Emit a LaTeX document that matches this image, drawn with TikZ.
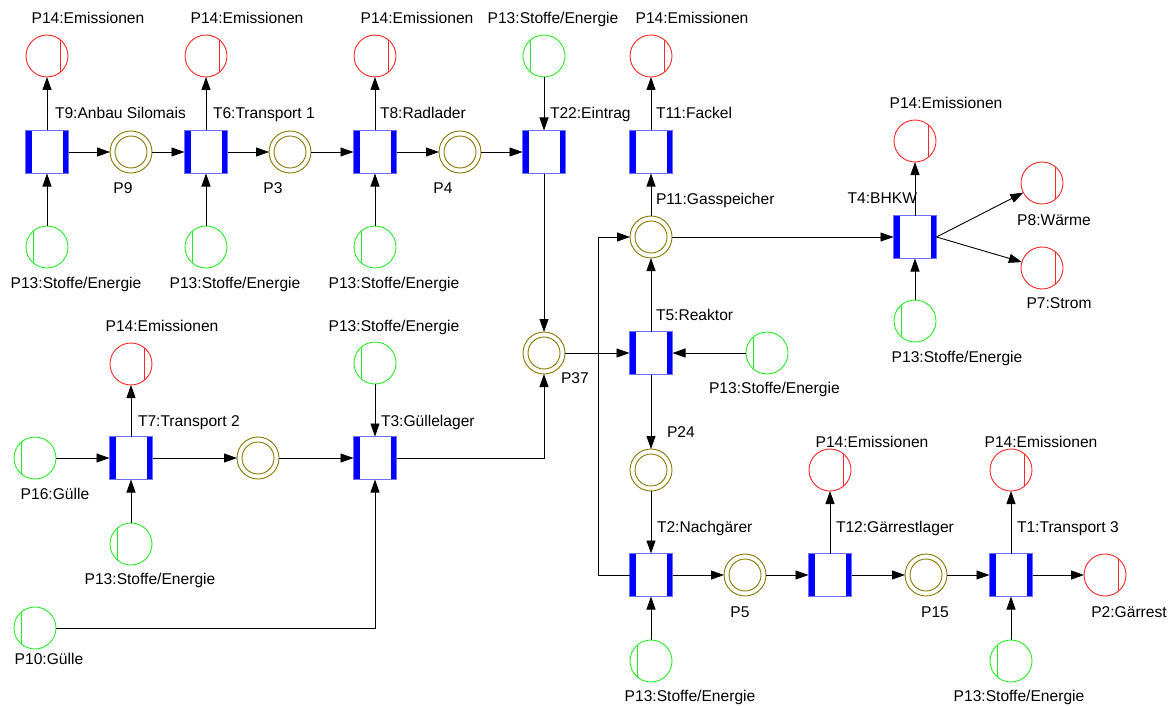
\documentclass[tikz,border=0pt]{standalone}
\usepackage{fontspec}
\setmainfont{Liberation Sans}
\usetikzlibrary{arrows.meta}
\definecolor{trblue}{RGB}{0,0,255}
\definecolor{tredge}{RGB}{110,110,255}
\definecolor{plred}{RGB}{255,40,40}
\definecolor{plgreen}{RGB}{40,235,40}
\definecolor{plolive}{RGB}{135,120,0}
\begin{document}
\begin{tikzpicture}[x=1pt,y=-1pt,
  every node/.style={inner sep=0pt,outer sep=0pt},
  trans/.style={rectangle,minimum width=43pt,minimum height=43pt,draw=tredge,line width=0.9pt,fill=white,
    path picture={
      \fill[trblue] (path picture bounding box.south west) rectangle ([xshift=6pt]path picture bounding box.north west);
      \fill[trblue] (path picture bounding box.south east) rectangle ([xshift=-6pt]path picture bounding box.north east);}},
  emis/.style={circle,minimum size=42pt,draw=plred,line width=0.9pt,fill=white,
    path picture={\draw[plred,line width=0.9pt]
      ([xshift=13pt,yshift=-25pt]path picture bounding box.center) -- ([xshift=13pt,yshift=25pt]path picture bounding box.center);}},
  res/.style={circle,minimum size=42pt,draw=plgreen,line width=0.9pt,fill=white,
    path picture={\draw[plgreen,line width=0.9pt]
      ([xshift=-14pt,yshift=-25pt]path picture bounding box.center) -- ([xshift=-14pt,yshift=25pt]path picture bounding box.center);}},
  buf/.style={circle,minimum size=42pt,draw=plolive,line width=0.9pt,fill=white,
    path picture={\draw[plolive,line width=0.9pt] (path picture bounding box.center) circle[radius=16pt];}},
  lbl/.style={font=\fontsize{15.6}{18}\selectfont,text height=11.2pt,text depth=0pt},
  arc/.style={-{Triangle[length=13pt,width=9pt]},line width=0.9pt,black},
]
\path[use as bounding box] (0,0) rectangle (1175,706);

% --- upper chain: cultivation, transport, loading, feeding
\node[trans] (T9) at (47,152) {};
\node[emis] (E9) at (47,56) {};
\node[res] (R9) at (47,247) {};
\node[buf] (P9) at (131,152) {};
\node[trans] (T6) at (206,152) {};
\node[emis] (E6) at (206,56) {};
\node[res] (R6) at (206,247) {};
\node[buf] (P3) at (290,152) {};
\node[trans] (T8) at (375,152) {};
\node[emis] (E8) at (375,56) {};
\node[res] (R8) at (375,247) {};
\node[buf] (P4) at (460,152) {};
\node[trans] (T22) at (544,152) {};
\node[res] (R22) at (544,56) {};
\node[trans] (T11) at (651,152) {};
\node[emis] (E11) at (651,56) {};

% --- gas storage and CHP
\node[buf] (P11) at (651,237) {};
\node[trans] (T4) at (915,237) {};
\node[emis] (E4) at (915,141) {};
\node[res] (R4) at (915,321) {};
\node[emis] (P8) at (1042,183) {};
\node[emis] (P7) at (1042,268) {};

% --- reactor
\node[buf] (P37) at (544,353) {};
\node[trans] (T5) at (651,353) {};
\node[res] (R5) at (767,353) {};
\node[buf] (P24) at (651,470) {};

% --- digestate chain
\node[trans] (T2) at (651,575) {};
\node[res] (R2) at (651,661) {};
\node[buf] (P5) at (745,575) {};
\node[trans] (T12) at (830,575) {};
\node[emis] (E12) at (830,470) {};
\node[buf] (P15) at (926,575) {};
\node[trans] (T1) at (1011,575) {};
\node[emis] (E1) at (1011,470) {};
\node[res] (R1) at (1011,661) {};
\node[emis] (P2) at (1105,575) {};

% --- manure chain
\node[res] (P16) at (35,458) {};
\node[trans] (T7) at (131,458) {};
\node[emis] (E7) at (131,364) {};
\node[res] (R7) at (131,544) {};
\node[buf] (PU) at (258,458) {};
\node[trans] (T3) at (375,458) {};
\node[res] (R3) at (375,363) {};
\node[res] (P10) at (35,628) {};

\coordinate (k1) at (375,628);
\coordinate (k2) at (544,458);
\coordinate (k3) at (598,575);
\coordinate (k4) at (598,237);

% --- arcs
\draw[arc] (T9) -- (E9);
\draw[arc] (R9) -- (T9);
\draw[arc] (T9) -- (P9);
\draw[arc] (P9) -- (T6);
\draw[arc] (T6) -- (E6);
\draw[arc] (R6) -- (T6);
\draw[arc] (T6) -- (P3);
\draw[arc] (P3) -- (T8);
\draw[arc] (T8) -- (E8);
\draw[arc] (R8) -- (T8);
\draw[arc] (T8) -- (P4);
\draw[arc] (P4) -- (T22);
\draw[arc] (R22) -- (T22);
\draw[arc] (T22) -- (P37);
\draw[arc] (P11) -- (T11);
\draw[arc] (T11) -- (E11);
\draw[arc] (P11) -- (T4);
\draw[arc] (T4) -- (E4);
\draw[arc] (R4) -- (T4);
\draw[arc] (T4.east) -- (P8);
\draw[arc] (T4.east) -- (P7);
\draw[arc] (P37) -- (T5);
\draw[arc] (R5) -- (T5);
\draw[arc] (T5) -- (P11);
\draw[arc] (T5) -- (P24);
\draw[arc] (P24) -- (T2);
\draw[arc] (R2) -- (T2);
\draw[arc] (T2) -- (k3) -- (k4) -- (P11);
\draw[arc] (T2) -- (P5);
\draw[arc] (P5) -- (T12);
\draw[arc] (T12) -- (E12);
\draw[arc] (T12) -- (P15);
\draw[arc] (P15) -- (T1);
\draw[arc] (T1) -- (E1);
\draw[arc] (R1) -- (T1);
\draw[arc] (T1) -- (P2);
\draw[arc] (P16) -- (T7);
\draw[arc] (T7) -- (E7);
\draw[arc] (R7) -- (T7);
\draw[arc] (T7) -- (PU);
\draw[arc] (PU) -- (T3);
\draw[arc] (R3) -- (T3);
\draw[arc] (P10) -- (k1) -- (T3);
\draw[arc] (T3) -- (k2) -- (P37);

% --- labels
\node[lbl] (lE9) at (88,18) {P14:Emissionen};
\node[lbl] (lE6) at (247,18) {P14:Emissionen};
\node[lbl] (lE8) at (417,18) {P14:Emissionen};
\node[lbl] (lR22) at (553,18) {P13:Stoffe/Energie};
\node[lbl] (lE11) at (692,18) {P14:Emissionen};
\node[lbl,anchor=west] (lT9) at (55,113) {T9:Anbau Silomais};
\node[lbl,anchor=west] (lT6) at (213,113) {T6:Transport 1};
\node[lbl,anchor=west] (lT8) at (380,113) {T8:Radlader};
\node[lbl,anchor=west] (lT22) at (550,113) {T22:Eintrag};
\node[lbl,anchor=west] (lT11) at (656,113) {T11:Fackel};
\node[lbl] (lP9) at (123,188) {P9};
\node[lbl] (lP3) at (273,188) {P3};
\node[lbl] (lP4) at (443,188) {P4};
\node[lbl] (lR9) at (76,283) {P13:Stoffe/Energie};
\node[lbl] (lR6) at (235,283) {P13:Stoffe/Energie};
\node[lbl] (lR8) at (394,283) {P13:Stoffe/Energie};
\node[lbl,anchor=west] (lP11) at (656,199) {P11:Gasspeicher};
\node[lbl] (lE4) at (946,103) {P14:Emissionen};
\node[lbl,anchor=east] (lT4) at (917,198) {T4:BHKW};
\node[lbl] (lP8) at (1054,220) {P8:Wärme};
\node[lbl] (lP7) at (1059,303) {P7:Strom};
\node[lbl] (lR4) at (957,357) {P13:Stoffe/Energie};
\node[lbl,anchor=west] (lT5) at (656,315) {T5:Reaktor};
\node[lbl,anchor=west] (lR5) at (709,388) {P13:Stoffe/Energie};
\node[lbl,anchor=west] (lP37) at (561,378) {P37};
\node[lbl,anchor=west] (lP24) at (667,432) {P24};
\node[lbl,anchor=west] (lT2) at (657,527) {T2:Nachgärer};
\node[lbl,anchor=west] (lT12) at (836,527) {T12:Gärrestlager};
\node[lbl,anchor=west] (lT1) at (1017,527) {T1:Transport 3};
\node[lbl] (lE12) at (872,442) {P14:Emissionen};
\node[lbl] (lE1) at (1041,442) {P14:Emissionen};
\node[lbl] (lP5) at (740,612) {P5};
\node[lbl] (lP15) at (935,612) {P15};
\node[lbl] (lP2) at (1129,612) {P2:Gärrest};
\node[lbl] (lR2) at (690,696) {P13:Stoffe/Energie};
\node[lbl] (lR1) at (1019,696) {P13:Stoffe/Energie};
\node[lbl] (lE7) at (162,326) {P14:Emissionen};
\node[lbl,anchor=west] (lT7) at (138,421) {T7:Transport 2};
\node[lbl] (lP16) at (55,494) {P16:Gülle};
\node[lbl] (lR7) at (150,579) {P13:Stoffe/Energie};
\node[lbl] (lR3) at (394,326) {P13:Stoffe/Energie};
\node[lbl,anchor=west] (lT3) at (381,421) {T3:Güllelager};
\node[lbl] (lP10) at (49,659) {P10:Gülle};
\end{tikzpicture}
\end{document}
